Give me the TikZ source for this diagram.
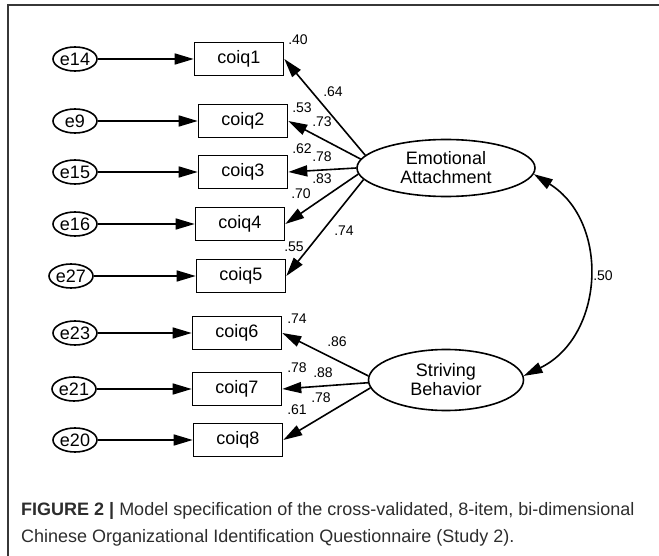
\documentclass[tikz,border=0pt]{standalone}
\usepackage{fontspec}
\setmainfont{Liberation Sans}
\usetikzlibrary{shapes.geometric, arrows.meta, positioning}
\definecolor{frameline}{RGB}{55, 55, 55}
\definecolor{captext}{RGB}{45, 45, 45}
\tikzset{
    item/.style={rectangle, draw=black, line width=1.6pt, minimum width=89pt, minimum height=33pt, inner sep=0pt, font=\fontsize{18}{19}\selectfont},
    err/.style={ellipse, draw=black, line width=1.6pt, minimum width=44pt, minimum height=24pt, inner sep=0pt, font=\fontsize{18}{19}\selectfont},
    latent/.style={ellipse, draw=black, line width=1.6pt, align=center, inner sep=0pt, font=\fontsize{18}{19}\selectfont},
    coef/.style={inner sep=0pt, font=\fontsize{14}{15}\selectfont},
    caption/.style={align=left, inner sep=0pt, text=captext, font=\fontsize{18}{27}\selectfont},
    arr/.style={-{Triangle[length=19pt, width=11pt]}, line width=1.6pt},
    dblarr/.style={{Triangle[length=19pt, width=11pt]}-{Triangle[length=19pt, width=11pt]}, line width=1.6pt}
}
\begin{document}
\begin{tikzpicture}[x=1pt, y=1pt]
                \useasboundingbox (0,0) rectangle (659,-556);
                \draw[frameline, line width=1.5pt] (8,-556) -- (8,-5) -- (659,-5);
                \node[item] (c1) at (239,-59) {coiq1};
                \node[item] (c2) at (243,-121) {coiq2};
                \node[item] (c3) at (243,-172) {coiq3};
                \node[item] (c4) at (240,-224) {coiq4};
                \node[item] (c5) at (241,-276) {coiq5};
                \node[item] (c6) at (237,-333) {coiq6};
                \node[item] (c7) at (237,-389) {coiq7};
                \node[item] (c8) at (238,-440) {coiq8};
                \node[err] (e14) at (75,-59) {e14};
                \node[err] (e9) at (75,-121) {e9};
                \node[err] (e15) at (75,-172) {e15};
                \node[err] (e16) at (75,-224) {e16};
                \node[err] (e27) at (71,-276) {e27};
                \node[err] (e23) at (75,-333) {e23};
                \node[err] (e21) at (74,-389) {e21};
                \node[err] (e20) at (75,-440) {e20};
                \node[latent, minimum width=178pt, minimum height=57pt] (ea) at (446,-168) {Emotional\\Attachment};
                \node[latent, minimum width=155pt, minimum height=61pt] (sb) at (446,-380) {Striving\\Behavior};
                \draw[arr] (e14)--(c1); \draw[arr] (e9)--(c2); \draw[arr] (e15)--(c3); \draw[arr] (e16)--(c4);
                \draw[arr] (e27)--(c5); \draw[arr] (e23)--(c6); \draw[arr] (e21)--(c7); \draw[arr] (e20)--(c8);
                \draw[arr] (ea.171)--(c1.east); \draw[arr] (ea.174)--(c2.east); \draw[arr] (ea.180)--(c3.east);
                \draw[arr] (ea.184)--(c4.east); \draw[arr] (ea.188)--(c5.east);
                \draw[arr] (sb.177)--(c6.east); \draw[arr] (sb.182)--(c7.east); \draw[arr] (sb.186)--(c8.east);
                \draw[dblarr] (ea.-4) to[out=-32, in=26, looseness=1.14] (sb.3);
                \node[coef] (r1) at (298,-40) {.40};
                \node[coef] (l1) at (333,-92) {.64};
                \node[coef] (r2) at (302,-108) {.53};
                \node[coef] (l2) at (322,-122) {.73};
                \node[coef] (r3) at (302,-149) {.62};
                \node[coef] (l3) at (322,-157) {.78};
                \node[coef] (l4) at (322,-179) {.83};
                \node[coef] (r4) at (301,-194) {.70};
                \node[coef] (l5) at (344,-231) {.74};
                \node[coef] (r5) at (294,-247) {.55};
                \node[coef] (r6) at (297,-319) {.74};
                \node[coef] (l6) at (337,-342) {.86};
                \node[coef] (r7) at (297,-368) {.78};
                \node[coef] (l7) at (323,-373) {.88};
                \node[coef] (l8) at (321,-398) {.78};
                \node[coef] (r8) at (297,-410) {.61};
                \node[coef] (cov) at (603,-276) {.50};
                \node[caption, anchor=north west] (cap) at (21,-502) {\textbf{FIGURE 2 |} Model specification of the cross-validated, 8-item, bi-dimensional\\Chinese Organizational Identification Questionnaire (Study 2).};
            \end{tikzpicture}
\end{document}
